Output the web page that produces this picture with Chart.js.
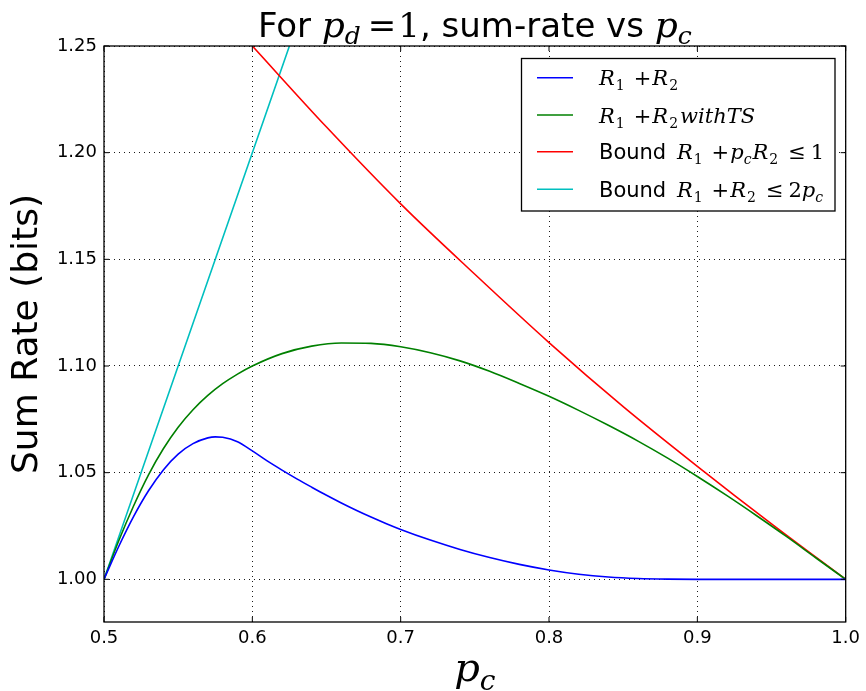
<!DOCTYPE html>
<html>
<head>
<meta charset="utf-8">
<script src="https://cdn.jsdelivr.net/npm/chart.js@4.4.1/dist/chart.umd.min.js"></script>
<style>
  html, body { margin: 0; padding: 0; background: #fff; }
  #wrap { width: 866px; height: 691px; position: relative; }
</style>
</head>
<body>
<div id="wrap"><canvas id="c"></canvas></div>
<script>
// ---- data ----
const xTicks = [0.5, 0.6, 0.7, 0.8, 0.9, 1.0];
const yTicks = [1.00, 1.05, 1.10, 1.15, 1.20, 1.25];

const blueX = [0.50,0.51,0.52,0.53,0.54,0.55,0.56,0.57,0.575,0.58,0.59,0.60,0.61,0.62,0.63,0.64,0.65,0.66,0.67,0.68,0.69,0.70,0.72,0.74,0.76,0.78,0.80,0.82,0.84,0.86,0.88,0.90,0.95,1.00];
const blueY = [1.000,1.0155,1.0295,1.0415,1.0513,1.0587,1.0636,1.0663,1.0668,1.0666,1.0645,1.0602,1.0555,1.0512,1.0471,1.0432,1.0394,1.0358,1.0324,1.0292,1.0262,1.0234,1.0184,1.0140,1.0102,1.0070,1.0044,1.0024,1.0011,1.0004,1.0001,1.000,1.000,1.000];

const greenX = [0.50,0.51,0.52,0.53,0.54,0.55,0.56,0.57,0.58,0.59,0.60,0.62,0.64,0.66,0.68,0.70,0.72,0.74,0.76,0.78,0.80,0.82,0.84,0.86,0.88,0.90,0.92,0.94,0.96,0.98,1.00];
const greenY = [1.000,1.0182,1.0345,1.0490,1.0612,1.0713,1.0795,1.0862,1.0917,1.0962,1.1000,1.1058,1.1093,1.1108,1.1106,1.1090,1.1062,1.1024,1.0975,1.0918,1.0858,1.0792,1.0722,1.0648,1.0568,1.0482,1.0392,1.0298,1.0201,1.0100,1.000];

const redX = [0.60,0.65,0.70,0.75,0.80,0.85,0.90,0.95,1.00];
const redY = [1.250,1.212,1.176,1.143,1.111,1.081,1.053,1.026,1.000];

const cyanX = [0.50,0.55,0.60,0.625];
const cyanY = [1.000,1.100,1.200,1.250];

const seriesColors = ['#0000ff', '#008000', '#ff0000', '#00bfbf'];

function pts(xs, ys) { return xs.map((x, i) => ({ x: x, y: ys[i] })); }

// ---- rich text helper ----
const SANS = '"DejaVu Sans"';
const SERIF = '"DejaVu Serif"';
function drawRuns(ctx, runs, x, y, align) {
  let total = 0;
  runs.forEach(r => { ctx.font = r.f; r.w = ctx.measureText(r.t).width; total += r.w + (r.gap || 0); });
  let cx = align === 'center' ? x - total / 2 : x;
  runs.forEach(r => {
    ctx.font = r.f;
    ctx.fillText(r.t, cx, y + (r.dy || 0));
    cx += r.w + (r.gap || 0);
  });
  return total;
}
function IT(sz) { return 'italic ' + sz + 'px ' + SERIF; }
function RM(sz) { return sz + 'px ' + SERIF; }

const deco = {
  id: 'deco',
  afterDatasetsDraw(chart) {
    const ctx = chart.ctx, a = chart.chartArea;
    const xs = chart.scales.x, ys = chart.scales.y;
    ctx.save();
    ctx.setLineDash([]);
    // frame
    ctx.strokeStyle = '#000'; ctx.lineWidth = 1.3;
    ctx.strokeRect(a.left, a.top, a.right - a.left, a.bottom - a.top);
    // inward ticks on all sides
    ctx.lineWidth = 1;
    const L = 5;
    xTicks.forEach(v => {
      const px = xs.getPixelForValue(v);
      ctx.beginPath();
      ctx.moveTo(px, a.bottom); ctx.lineTo(px, a.bottom - L);
      ctx.moveTo(px, a.top); ctx.lineTo(px, a.top + L);
      ctx.stroke();
    });
    yTicks.forEach(v => {
      const py = ys.getPixelForValue(v);
      ctx.beginPath();
      ctx.moveTo(a.left, py); ctx.lineTo(a.left + L, py);
      ctx.moveTo(a.right, py); ctx.lineTo(a.right - L, py);
      ctx.stroke();
    });
    ctx.fillStyle = '#000';
    ctx.textBaseline = 'alphabetic';
    // title
    const cxm = (a.left + a.right) / 2;
    drawRuns(ctx, [
      { t: 'For ', f: '34px ' + SANS },
      { t: 'p', f: IT(36) },
      { t: 'd', f: IT(25), dy: 7, gap: 7 },
      { t: '=', f: RM(34), gap: 2 },
      { t: '1', f: RM(34) },
      { t: ', sum-rate vs ', f: '34px ' + SANS },
      { t: 'p', f: IT(36) },
      { t: 'c', f: IT(25), dy: 7 }
    ], cxm, 37, 'center');
    // x label
    drawRuns(ctx, [
      { t: 'p', f: IT(40) },
      { t: 'c', f: IT(28), dy: 9 }
    ], cxm, 681, 'center');
    // y label
    ctx.save();
    ctx.translate(28, (a.top + a.bottom) / 2);
    ctx.rotate(-Math.PI / 2);
    ctx.textAlign = 'center';
    ctx.textBaseline = 'middle';
    ctx.font = '36px ' + SANS;
    ctx.fillText('Sum Rate (bits)', 0, 0);
    ctx.restore();
    // legend
    const bx = 521.5, by = 58.5, bw = 313.5, bh = 152.5;
    ctx.fillStyle = '#fff';
    ctx.fillRect(bx, by, bw, bh);
    ctx.strokeStyle = '#000'; ctx.lineWidth = 1.3;
    ctx.strokeRect(bx, by, bw, bh);
    ctx.fillStyle = '#000';
    const rowsY = [77.7, 115, 151.7, 189.3];
    const S = 21, SS = 14, SD = 5;
    const BND = { t: 'Bound ', f: '21px ' + SANS, gap: 4 };
    const rows = [
      [{ t: 'R', f: IT(S), gap: 1 }, { t: '1', f: RM(SS), dy: SD, gap: 9 }, { t: '+', f: RM(S), gap: 1 }, { t: 'R', f: IT(S), gap: 1 }, { t: '2', f: RM(SS), dy: SD }],
      [{ t: 'R', f: IT(S), gap: 1 }, { t: '1', f: RM(SS), dy: SD, gap: 9 }, { t: '+', f: RM(S), gap: 1 }, { t: 'R', f: IT(S), gap: 1 }, { t: '2', f: RM(SS), dy: SD, gap: 2 }, { t: 'withTS', f: IT(S) }],
      [BND, { t: 'R', f: IT(S), gap: 1 }, { t: '1', f: RM(SS), dy: SD, gap: 9 }, { t: '+', f: RM(S), gap: 1 }, { t: 'p', f: IT(S) }, { t: 'c', f: IT(SS), dy: SD, gap: 1 }, { t: 'R', f: IT(S), gap: 1 }, { t: '2', f: RM(SS), dy: SD, gap: 10 }, { t: '\u2264', f: RM(S), gap: 5 }, { t: '1', f: RM(S) }],
      [BND, { t: 'R', f: IT(S), gap: 1 }, { t: '1', f: RM(SS), dy: SD, gap: 9 }, { t: '+', f: RM(S), gap: 1 }, { t: 'R', f: IT(S), gap: 1 }, { t: '2', f: RM(SS), dy: SD, gap: 10 }, { t: '\u2264', f: RM(S), gap: 5 }, { t: '2', f: RM(S) }, { t: 'p', f: IT(S) }, { t: 'c', f: IT(SS), dy: SD }]
    ];
    rows.forEach((runs, i) => {
      const yy = rowsY[i];
      ctx.strokeStyle = seriesColors[i]; ctx.lineWidth = 1.6;
      ctx.beginPath(); ctx.moveTo(537, yy); ctx.lineTo(573, yy); ctx.stroke();
      drawRuns(ctx, runs, 599, yy + 7.5, 'left');
    });
    ctx.restore();
  }
};

const lineDs = (label, xs, ys, color) => ({
  label: label,
  data: pts(xs, ys),
  borderColor: color,
  backgroundColor: color,
  borderWidth: 1.6,
  pointRadius: 0,
  fill: false,
  cubicInterpolationMode: 'monotone'
});

const gridOpts = { color: 'rgba(0,0,0,0.9)', lineWidth: 1, drawTicks: false };
const borderOpts = { display: false, dash: [1, 4] };

new Chart(document.getElementById('c'), {
  type: 'line',
  data: {
    datasets: [
      lineDs('R1+R2', blueX, blueY, seriesColors[0]),
      lineDs('R1+R2 with TS', greenX, greenY, seriesColors[1]),
      lineDs('Bound R1+pcR2<=1', redX, redY, seriesColors[2]),
      lineDs('Bound R1+R2<=2pc', cyanX, cyanY, seriesColors[3])
    ]
  },
  options: {
    responsive: true,
    maintainAspectRatio: false,
    animation: false,
    events: [],
    layout: { padding: { left: 0, right: 19, top: 46, bottom: 0 } },
    plugins: { legend: { display: false }, title: { display: false }, tooltip: { enabled: false } },
    scales: {
      x: {
        type: 'linear', min: 0.5, max: 1.0,
        afterBuildTicks: s => { s.ticks = xTicks.map(v => ({ value: v })); },
        afterFit: s => { s.height = 69; },
        border: borderOpts,
        grid: gridOpts,
        ticks: { color: '#000', font: { family: 'DejaVu Sans', size: 18 }, padding: 6, maxRotation: 0, callback: v => Number(v).toFixed(1) }
      },
      y: {
        type: 'linear', min: 0.98, max: 1.25,
        afterBuildTicks: s => { s.ticks = yTicks.map(v => ({ value: v })); },
        afterFit: s => { s.width = 104; },
        border: borderOpts,
        grid: gridOpts,
        ticks: { color: '#000', font: { family: 'DejaVu Sans', size: 18 }, padding: 7, callback: v => Number(v).toFixed(2) }
      }
    }
  },
  plugins: [deco]
});
</script>
</body>
</html>
